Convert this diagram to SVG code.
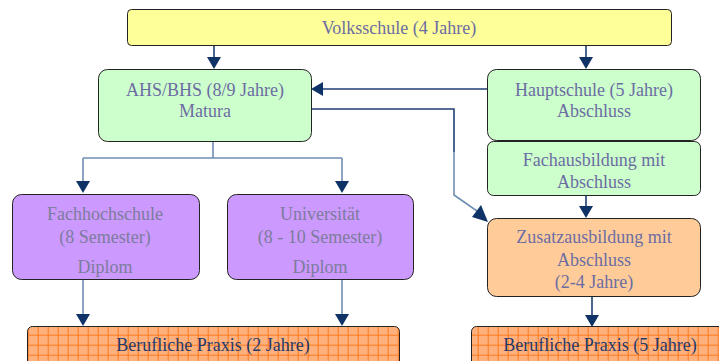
<svg xmlns="http://www.w3.org/2000/svg" width="719" height="361" viewBox="0 0 719 361">
<defs>
<style>
text{font-size:18px;text-anchor:middle;fill:#6c6ca3}
.box{stroke:#222;stroke-width:1}
.purple text{fill:#7c7c9c}
.conn{fill:none;stroke:#6f8fb3;stroke-width:1.6}
.dark{fill:none;stroke:#1f3f73;stroke-width:1.6}
.ber text{fill:#1f3a6b}
</style>
<pattern id="grid" patternUnits="userSpaceOnUse" x="7.7" y="4.7" width="10" height="10">
<rect width="10" height="10" fill="#ffb07c"/>
<path d="M0,0.5 H10 M0.5,0 V10" stroke="#ff7a1f" stroke-width="1"/>
</pattern>
</defs>

<g id="connectors">
<line class="dark" x1="214" y1="45" x2="214" y2="57"/><path d="M207,57 L221,57 L214,69 z" fill="#0f3366"/>
<line class="dark" x1="586" y1="45" x2="586" y2="57"/><path d="M579,57 L593,57 L586,69 z" fill="#0f3366"/>
<line class="dark" x1="491" y1="89" x2="323" y2="89"/><path d="M323,82 L323,96 L311,89 z" fill="#0f3366"/>
<path class="dark" d="M309,109 H454 V152" />
<path class="conn" d="M454,152 V195 L477,211"/>
<path d="M472,217 L481,205 L488,222 z" fill="#0f3366"/>
<path class="conn" d="M213,141 V158 M83,158 H342"/>
<path class="conn" d="M83,158 V181 M342,158 V181"/>
<path d="M76,181 L90,181 L83,193 z" fill="#0f3366"/>
<path d="M335,181 L349,181 L342,193 z" fill="#0f3366"/>
<line class="dark" x1="586" y1="195" x2="586" y2="206"/><path d="M579,206 L593,206 L586,218 z" fill="#0f3366"/>
<line class="conn" x1="83" y1="279" x2="83" y2="314"/><path d="M76,314 L90,314 L83,326 z" fill="#0f3366"/>
<line class="conn" x1="342" y1="279" x2="342" y2="314"/><path d="M335,314 L349,314 L342,326 z" fill="#0f3366"/>
<line class="dark" x1="592" y1="296" x2="592" y2="315"/><path d="M585,315 L599,315 L592,327 z" fill="#0f3366"/>
</g>

<g font-family="'Liberation Serif', 'Times New Roman', 'DejaVu Serif', serif">
<g id="volksschule">
<rect class="box" x="127.5" y="9.5" width="544" height="36" rx="4" fill="#ffff99"/>
<text x="399" y="34">Volksschule (4 Jahre)</text>
</g>

<g id="ahs">
<rect class="box" x="98.5" y="69.5" width="213" height="72" rx="9" fill="#ccffcc"/>
<text x="205" y="96">AHS/BHS (8/9 Jahre)</text>
<text x="205" y="117">Matura</text>
</g>

<g id="hauptschule">
<rect class="box" x="487.5" y="69.5" width="213" height="71" rx="9" fill="#ccffcc"/>
<text x="594" y="96">Hauptschule (5 Jahre)</text>
<text x="594" y="117">Abschluss</text>
</g>

<g id="fachausbildung">
<rect class="box" x="487.5" y="141.5" width="213" height="54" rx="6" fill="#ccffcc"/>
<text x="594" y="166">Fachausbildung mit</text>
<text x="594" y="188">Abschluss</text>
</g>

<g id="fachhochschule" class="purple">
<rect class="box" x="12.5" y="194.5" width="187" height="85" rx="9" fill="#cc99ff"/>
<text x="105" y="220">Fachhochschule</text>
<text x="105" y="243">(8 Semester)</text>
<text x="105" y="273">Diplom</text>
</g>

<g id="universitaet" class="purple">
<rect class="box" x="227.5" y="194.5" width="186" height="85" rx="9" fill="#cc99ff"/>
<text x="320" y="220">Universität</text>
<text x="320" y="243">(8 - 10 Semester)</text>
<text x="320" y="273">Diplom</text>
</g>

<g id="zusatzausbildung">
<rect class="box" x="487.5" y="218.5" width="213" height="78" rx="9" fill="#ffcc99"/>
<text x="594" y="243">Zusatzausbildung mit</text>
<text x="594" y="266">Abschluss</text>
<text x="594" y="288">(2-4 Jahre)</text>
</g>

<g id="praxis2" class="ber">
<rect class="box" x="27.5" y="326.5" width="372" height="45" rx="5" fill="url(#grid)"/>
<text x="213" y="351">Berufliche Praxis (2 Jahre)</text>
</g>

<g id="praxis5" class="ber">
<rect class="box" x="471.5" y="326.5" width="260" height="45" rx="5" fill="url(#grid)"/>
<text x="600" y="351">Berufliche Praxis (5 Jahre)</text>
</g>
</g>
</svg>
